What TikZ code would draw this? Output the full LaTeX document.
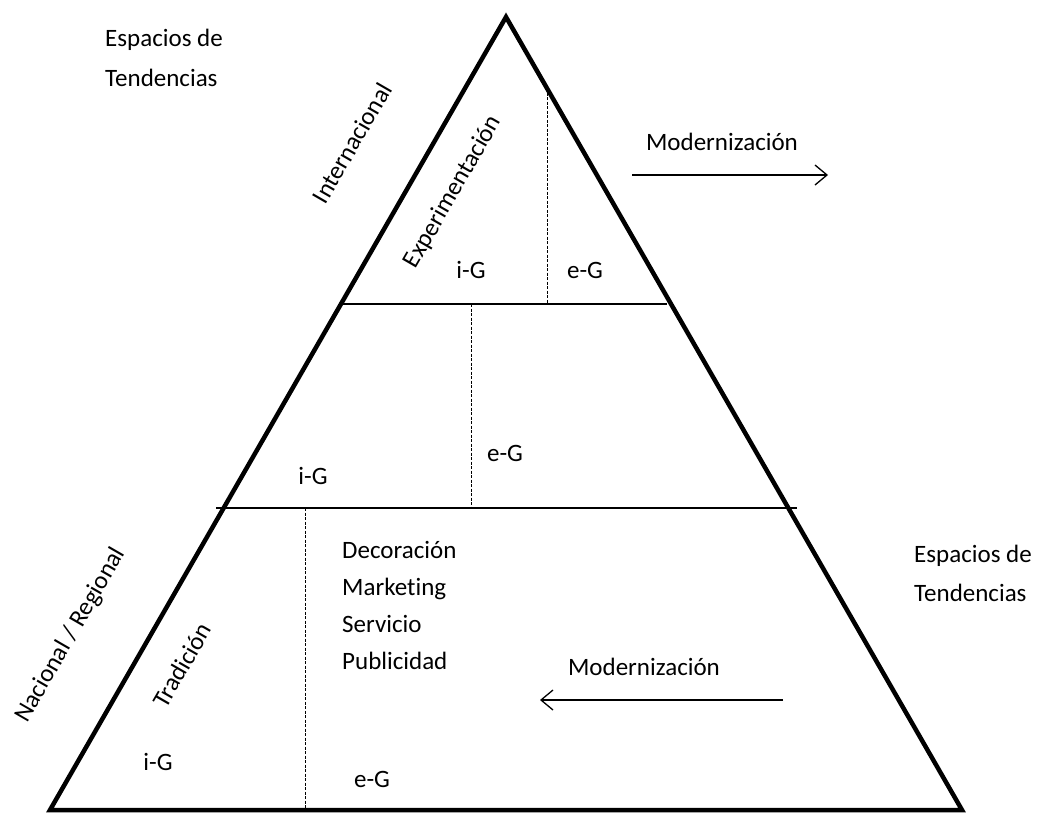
\documentclass[tikz,border=0pt]{standalone}
\usepackage{fontspec}
\setmainfont{Carlito}[Ligatures=CommonOff]
\usetikzlibrary{arrows.meta,positioning}

\begin{document}
\begin{tikzpicture}[x=1pt,y=-1pt,
  every node/.style={font=\fontsize{25}{30}\selectfont,inner sep=0pt},
  edge/.style={line width=4.5pt,line join=miter},
  sep/.style={line width=1.4pt},
  dsep/.style={line width=1pt,dash pattern=on 3pt off 1.5pt},
  flow/.style={line width=1.3pt,-{Straight Barb[length=12pt,width=20pt,line width=1.3pt]}}]
  \useasboundingbox (0,0) rectangle (1042,814);
  % pyramid
  \coordinate (apex) at (506,17);
  \coordinate (bl) at (50,810);
  \coordinate (br) at (962,810);
  \draw[edge] (bl) -- (apex) -- (br) -- cycle;
  % levels
  \coordinate (u1) at (343,304); \coordinate (u2) at (667,304);
  \coordinate (m1) at (216,508); \coordinate (m2) at (797,508);
  \draw[sep] (u1) -- (u2);
  \draw[sep] (m1) -- (m2);
  \coordinate (d1) at (547,88);  \coordinate (d2) at (547,304);
  \coordinate (d3) at (471,304); \coordinate (d4) at (471,508);
  \coordinate (d5) at (305,508); \coordinate (d6) at (305,810);
  \draw[dsep] (d1) -- (d2);
  \draw[dsep] (d3) -- (d4);
  \draw[dsep] (d5) -- (d6);
  % labels outside
  \node[anchor=west,align=left,font=\fontsize{25}{40}\selectfont] (espA) at (105,58) {Espacios de\\Tendencias};
  \node[anchor=west,align=left,font=\fontsize{25}{39}\selectfont] (espB) at (914,573) {Espacios de\\Tendencias};
  \node[rotate=60] (inter) at (352,143) {Internacional};
  \node[rotate=60] (nacreg) at (71,635) {Nacional / Regional};
  % top level
  \node[rotate=60] (exper) at (453,192) {Experimentación};
  \node (igA) at (471,270) {i-G};
  \node (egA) at (585,270) {e-G};
  % middle level
  \node (igB) at (313,476) {i-G};
  \node (egB) at (505,453) {e-G};
  % bottom level
  \node[rotate=60] (trad) at (182,665) {Tradición};
  \node (igC) at (158,762) {i-G};
  \node (egC) at (372,779) {e-G};
  \node[anchor=west,align=left,font=\fontsize{25}{37}\selectfont] (areas) at (342,605) {Decoración\\Marketing\\Servicio\\Publicidad};
  % modernizacion
  \node (modA) at (722,142) {Modernización};
  \coordinate (a1) at (632,175); \coordinate (a2) at (828,175);
  \draw[flow] (a1) -- (a2);
  \node (modB) at (644,667) {Modernización};
  \coordinate (b1) at (783,700); \coordinate (b2) at (540,700);
  \draw[flow] (b1) -- (b2);
\end{tikzpicture}
\end{document}
